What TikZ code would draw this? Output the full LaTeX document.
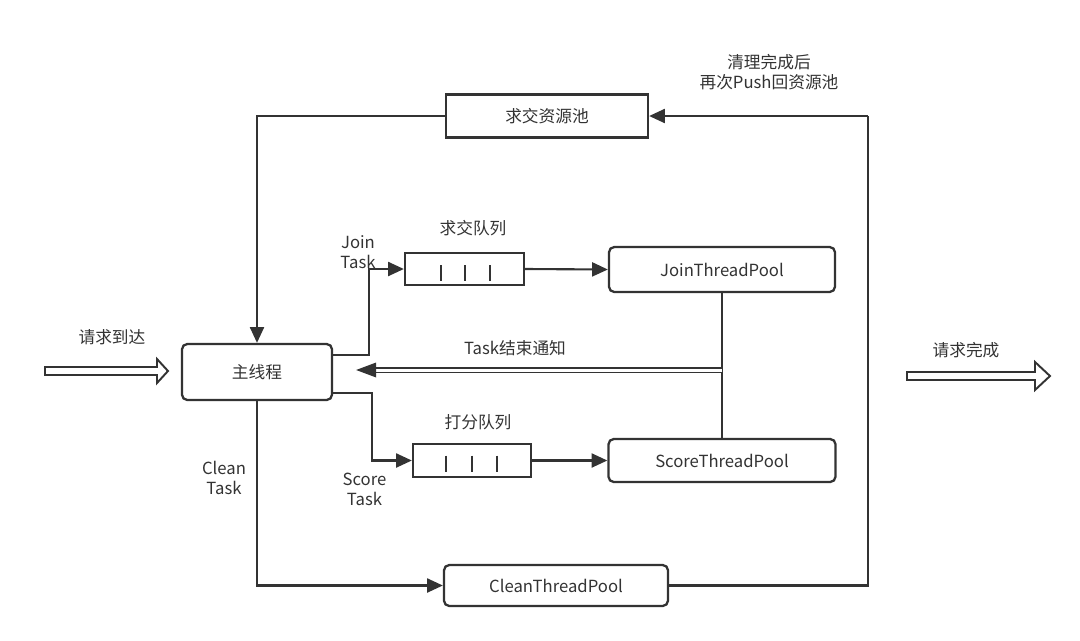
\documentclass[tikz,border=0pt]{standalone}
\usepackage{fontspec}
\setmainfont{Noto Sans CJK SC}
\usetikzlibrary{arrows.meta,calc}
\definecolor{ink}{HTML}{333333}
\newlength\pxu
\setlength\pxu{0.02cm}
\begin{document}
\begin{tikzpicture}[x=0.02cm,y=-0.02cm,
  every node/.style={font=\fontsize{9.5}{11.5}\selectfont, text=ink},
  sbox/.style={draw=ink, line width=1.3pt, fill=white, inner sep=0pt},
  rbox/.style={sbox, rounded corners=3pt},
  conn/.style={draw=ink, line width=1.2pt, -{Triangle[length=9pt,width=8pt]}},
  plain/.style={draw=ink, line width=1.2pt},
  bar/.style={draw=ink, line width=0.8pt},
  hollow/.style={draw=ink, line width=1.1pt, fill=white, line join=miter},
  lbl/.style={align=center}]
\useasboundingbox (0,0) rectangle (1080,640);

% boxes
\node[sbox, minimum width=202\pxu, minimum height=43\pxu] (pool) at (547,116) {求交资源池};
\node[rbox, minimum width=150\pxu, minimum height=56\pxu] (main) at (257,372) {主线程};
\node[sbox, minimum width=119\pxu, minimum height=32\pxu] (jq) at (464.5,269) {};
\node[rbox, minimum width=226\pxu, minimum height=45\pxu] (jtp) at (722,269.5) {JoinThreadPool};
\node[sbox, minimum width=118\pxu, minimum height=33\pxu] (sq) at (472,460.5) {};
\node[rbox, minimum width=227\pxu, minimum height=43\pxu] (stp) at (722,460.5) {ScoreThreadPool};
\node[rbox, minimum width=224\pxu, minimum height=41\pxu] (ctp) at (556,585.5) {CleanThreadPool};

% queue bars
\foreach \dx in {-23.5,0.5,25.5}
  \draw[bar] ($(jq.center)+(\dx,-4)$) -- ++(0,16);
\foreach \dx in {-26,0,25}
  \draw[bar] ($(sq.center)+(\dx,-5)$) -- ++(0,16);

% labels
\node[lbl] (lpush) at (769,72) {清理完成后\\再次Push回资源池};
\node (ljq) at (473,228) {求交队列};
\node[lbl] (ljoin) at (358,252) {Join\\Task};
\node (lend) at (515,348) {Task结束通知};
\node (lsq) at (478,422) {打分队列};
\node[lbl] (lscore) at (364.5,489) {Score\\Task};
\node[lbl] (lclean) at (224,478) {Clean\\Task};
\node (larr) at (112,337) {请求到达};
\node (ldone) at (966,350) {请求完成};

% connectors
\coordinate (cr) at (868,116);
\draw[conn] (pool.west) -| (main.north);
\draw[conn] ($(main.east)+(0,-17)$) -- ++(36,0) |- (jq.west);
\draw[conn] (jq.east) -- (jtp.west);
\draw[conn] ($(main.east)+(0,21)$) -- ++(39,0) |- (sq.west);
\draw[conn] (sq.east) -- (stp.west);
\draw[conn] (main.south) |- (ctp.west);
\draw[plain] (ctp.east) -| (cr);
\draw[conn] (cr) -- (pool.east);
\draw[plain] (jtp.south) -- (stp.north);

% double "Task结束通知" arrow
\coordinate (nt) at (722,370);
\coordinate (ntip) at ($(main.east)+(23,-2)$);
\draw[ink, line width=0.95pt, double=white, double distance=1.7pt] (nt) -- ($(ntip)+(14,0)$);
\fill[ink] (ntip) -- ++(20,-7.5) -- ++(0,15) -- cycle;

% hollow arrows
\draw[hollow] (45,367) -- (157,367) -- (157,359) -- (168,371) -- (157,383) -- (157,375) -- (45,375) -- cycle;
\draw[hollow] (907,372) -- (1035,372) -- (1035,362) -- (1050,376) -- (1035,390) -- (1035,380) -- (907,380) -- cycle;
\end{tikzpicture}
\end{document}
